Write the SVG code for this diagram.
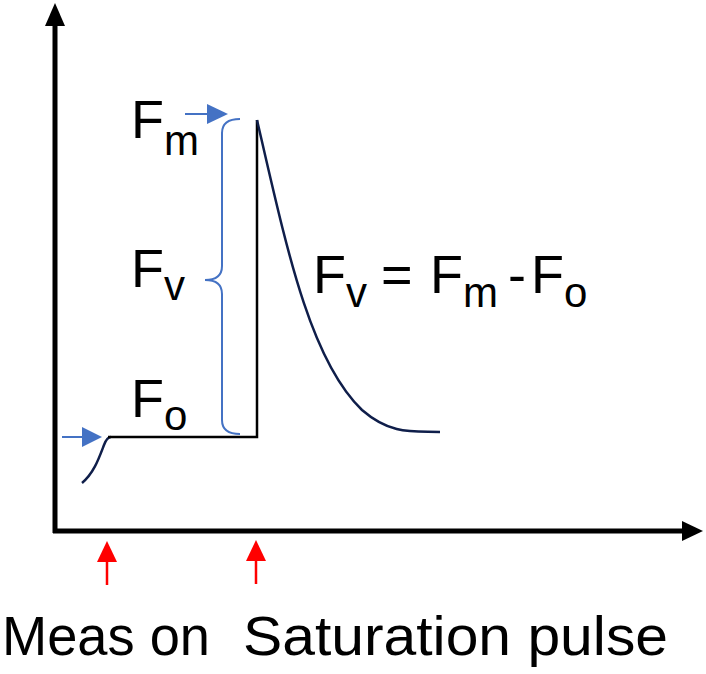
<svg xmlns="http://www.w3.org/2000/svg" width="706" height="674" viewBox="0 0 706 674">
<style>
.t{font-family:"Liberation Sans",Arial,sans-serif;fill:#000}
.big{font-size:54px}
.sub{font-size:42px}
.lbl{font-size:55px}
.axis{stroke:#000;stroke-width:5;fill:none}
.blk{stroke:#000;stroke-width:2.5;fill:none}
.navy{stroke:#0f1e4a;stroke-width:2.5;fill:none}
.blue{stroke:#4472c4;stroke-width:2;fill:none}
.red{stroke:#ff0000;stroke-width:2.5;fill:none}
</style>
<rect width="706" height="674" fill="#fff"/>
<g id="connectors">
  <g id="y-axis">
    <line class="axis" x1="55" y1="24" x2="55" y2="533"/>
    <polygon points="55,3 45,26 65,26" fill="#000"/>
  </g>
  <g id="x-axis">
    <line class="axis" x1="53" y1="531" x2="684" y2="531"/>
    <polygon points="703,531 682,521 682,541" fill="#000"/>
  </g>
  <g id="signal">
    <path class="navy" d="M82,483 C94,473 99,458 104,445 Q107,437 111,437"/>
    <path class="blk" d="M108,437 L257,437 L257,120"/>
    <path class="navy" d="M257,120 C287,250 310,360 362,410 C392,436 415,431 440,432"/>
  </g>
  <g id="arrow-fo">
    <line class="blue" x1="62" y1="437" x2="84" y2="437"/>
    <polygon points="102,437 82,427 82,447" fill="#4472c4"/>
  </g>
  <g id="arrow-fm">
    <line class="blue" x1="185" y1="114" x2="209" y2="114"/>
    <polygon points="228,114 207,104 207,124" fill="#4472c4"/>
  </g>
  <g id="brace">
    <path class="blue" d="M240,119 Q222,119 222,133 L222,266 Q222,280 205,280 Q222,280 222,294 L222,420 Q222,434 240,434"/>
  </g>
  <g id="arrow-meas">
    <line class="red" x1="107" y1="560" x2="107" y2="585"/>
    <polygon points="107,541 97,562 117,562" fill="#ff0000"/>
  </g>
  <g id="arrow-sat">
    <line class="red" x1="256" y1="560" x2="256" y2="584"/>
    <polygon points="256,540 246,561 266,561" fill="#ff0000"/>
  </g>
</g>
<g id="label-fm"><text class="t big" x="131" y="138">F<tspan class="sub" dy="17">m</tspan></text></g>
<g id="label-fv"><text class="t big" x="131" y="287">F<tspan class="sub" dy="13">v</tspan></text></g>
<g id="label-fo"><text class="t big" x="131" y="417">F<tspan class="sub" dy="13">o</tspan></text></g>
<g id="equation">
  <text class="t big" x="313" y="293">F<tspan class="sub" dy="14">v</tspan></text>
  <text class="t big" x="381" y="293">=</text>
  <text class="t big" x="430" y="293">F<tspan class="sub" dy="14">m</tspan></text>
  <text class="t big" x="508" y="293">-</text>
  <text class="t big" x="531" y="293">F<tspan class="sub" dy="14">o</tspan></text>
</g>
<g id="label-meas"><text class="t lbl" x="2" y="655" textLength="208" lengthAdjust="spacingAndGlyphs">Meas on</text></g>
<g id="label-sat"><text class="t lbl" x="243" y="655" textLength="425" lengthAdjust="spacingAndGlyphs">Saturation pulse</text></g>
</svg>
